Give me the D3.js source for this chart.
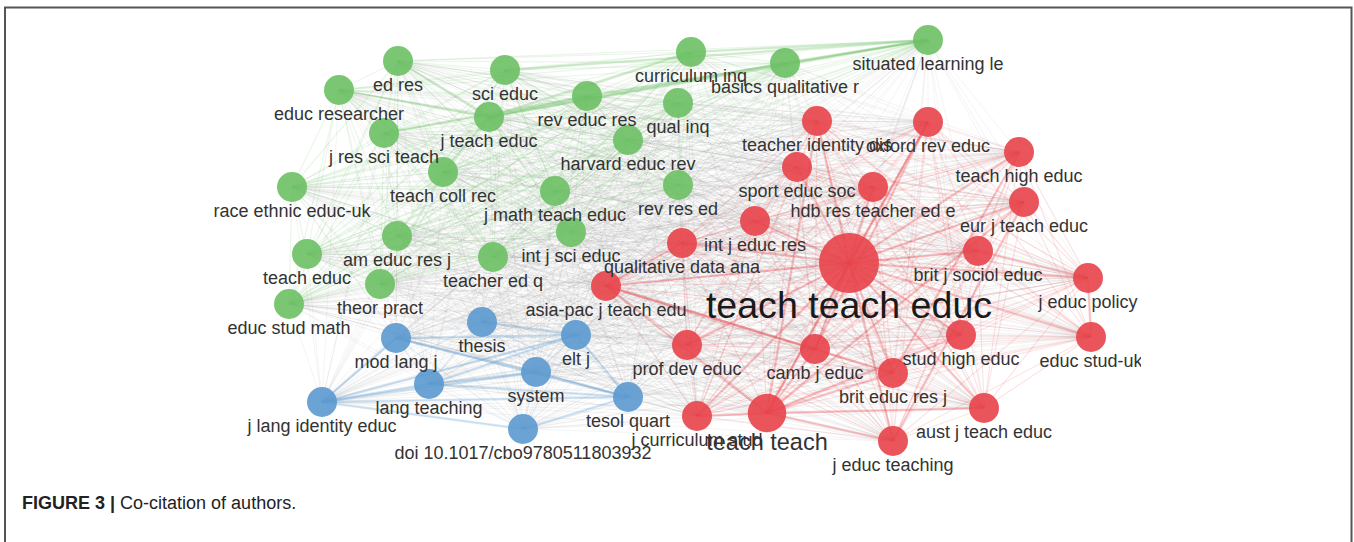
<!DOCTYPE html>
<html><head><meta charset="utf-8">
<script src="https://cdn.jsdelivr.net/npm/d3@7/dist/d3.min.js"></script>
<style>
html,body{margin:0;padding:0;background:#fff;}
svg{display:block;}
</style></head>
<body>
<svg id="chart" width="1354" height="542"></svg>
<script>
// ---- data (layout coordinates in units of 10 px, weights = occurrence size) ----
const labels = [
 "ed res","educ researcher","sci educ","curriculum inq","basics qualitative r","situated learning le",
 "rev educ res","qual inq","j teach educ","j res sci teach","harvard educ rev","teach coll rec",
 "race ethnic educ-uk","j math teach educ","rev res ed","am educ res j","int j sci educ","teach educ",
 "teacher ed q","theor pract","educ stud math",
 "thesis","elt j","mod lang j","system","lang teaching","j lang identity educ","tesol quart",
 "doi 10.1017/cbo9780511803932",
 "teacher identity dis","oxford rev educ","teach high educ","sport educ soc","hdb res teacher ed e",
 "eur j teach educ","int j educ res","qualitative data ana","teach teach educ","brit j sociol educ",
 "j educ policy","asia-pac j teach edu","stud high educ","educ stud-uk","prof dev educ","camb j educ",
 "brit educ res j","j curriculum stud","teach teach","aust j teach educ","j educ teaching"
];
const clusters = [
 1,1,1,1,1,1,1,1,1,1,1,1,1,1,1,1,1,1,1,1,1,
 3,3,3,3,3,3,3,3,
 2,2,2,2,2,2,2,2,2,2,2,2,2,2,2,2,2,2,2,2,2
];
const xs = [
 39.8,33.9,50.5,69.1,78.5,92.8,58.7,67.8,48.9,38.4,62.8,44.3,29.2,55.5,67.8,39.7,57.1,30.7,49.3,38.0,28.9,
 48.2,57.6,39.6,53.6,42.9,32.2,62.8,52.3,
 81.7,92.8,101.9,79.7,87.3,102.4,75.5,68.2,84.9,97.8,108.8,60.6,96.1,109.1,68.7,81.5,89.3,69.7,76.7,98.4,89.3
];
const ys = [
 6.1,9.0,7.0,5.2,6.3,4.0,9.6,10.3,11.7,13.3,14.0,17.2,18.7,19.1,18.5,23.6,23.2,25.4,25.7,28.4,30.4,
 32.2,33.5,33.8,37.2,38.4,40.2,39.7,42.9,
 12.1,12.2,15.2,16.7,18.7,20.2,22.1,24.3,26.3,25.1,27.8,28.6,33.5,33.7,34.5,34.9,37.3,41.6,41.3,40.8,44.1
];
const weights = [
 100,100,100,100,100,100,100,100,100,100,100,100,100,100,100,100,100,100,100,100,100,
 100,100,100,100,100,100,100,100,
 100,100,100,100,100,100,100,100,400,100,100,100,100,100,100,100,100,100,165,100,100
];
const clusterColors = {1:"#6cc064",2:"#e8434a",3:"#5b99cf"};
// strongest co-citation links (by label)
const strongLinks = [
 ["j lang identity educ","tesol quart"],["j lang identity educ","system"],["j lang identity educ","lang teaching"],
 ["j lang identity educ","doi 10.1017/cbo9780511803932"],["j lang identity educ","mod lang j"],["j lang identity educ","elt j"],
 ["mod lang j","tesol quart"],["mod lang j","system"],["lang teaching","tesol quart"],["system","tesol quart"],
 ["elt j","tesol quart"],["thesis","elt j"],["lang teaching","elt j"],["doi 10.1017/cbo9780511803932","tesol quart"],
 ["mod lang j","elt j"],["lang teaching","system"],
 ["j teach educ","situated learning le"],["rev educ res","situated learning le"],["j teach educ","rev educ res"],
 ["j teach educ","curriculum inq"],["j res sci teach","rev educ res"],["sci educ","situated learning le"],
 ["teach coll rec","j teach educ"],["educ researcher","j teach educ"],["curriculum inq","situated learning le"],
 ["basics qualitative r","situated learning le"],["j teach educ","basics qualitative r"],["ed res","j teach educ"],
 ["teach teach educ","teacher identity dis"],["teach teach educ","oxford rev educ"],["teach teach educ","teach high educ"],
 ["teach teach educ","sport educ soc"],["teach teach educ","hdb res teacher ed e"],["teach teach educ","eur j teach educ"],
 ["teach teach educ","int j educ res"],["teach teach educ","qualitative data ana"],["teach teach educ","brit j sociol educ"],
 ["teach teach educ","j educ policy"],["teach teach educ","asia-pac j teach edu"],["teach teach educ","stud high educ"],
 ["teach teach educ","educ stud-uk"],["teach teach educ","prof dev educ"],["teach teach educ","camb j educ"],
 ["teach teach educ","brit educ res j"],["teach teach educ","j curriculum stud"],["teach teach educ","teach teach"],
 ["teach teach educ","aust j teach educ"],["teach teach educ","j educ teaching"],
 ["teach teach","j curriculum stud"],["teach teach","camb j educ"],["teach teach","brit educ res j"],["teach teach","j educ teaching"],
 ["teach teach","aust j teach educ"],["teach teach","asia-pac j teach edu"],["teach teach","oxford rev educ"],
 ["teach teach","eur j teach educ"],["teach teach","stud high educ"],["teach teach","teacher identity dis"],
 ["asia-pac j teach edu","camb j educ"],["asia-pac j teach edu","brit educ res j"],["asia-pac j teach edu","qualitative data ana"],
 ["oxford rev educ","camb j educ"],["teach high educ","brit educ res j"],["eur j teach educ","j educ teaching"],
 ["j educ policy","educ stud-uk"],["brit j sociol educ","j educ policy"]
];

// ---- drawing ----
const svg = d3.select("#chart");
const W = 1354, H = 542;
const x = d3.scaleLinear().domain([0, 135.4]).range([0, W]);
const y = d3.scaleLinear().domain([0, 54.2]).range([0, H]);
const r = d3.scaleSqrt().domain([0, 100]).range([0, 15]);
const fs = d3.scalePow().exponent(0.53).domain([100, 400]).range([18, 37.6]);
const FONT = "'Liberation Sans', Arial, Helvetica, sans-serif";

const nodes = labels.map((l, i) => ({label: l, c: clusters[i], x: xs[i], y: ys[i], w: weights[i]}));
const byLabel = new Map(nodes.map(n => [n.label, n]));

// frame
svg.append("path")
  .attr("d", `M5,${H+2} L5,7.5 L1351.5,7.5 L1351.5,${H+2}`)
  .attr("fill", "none").attr("stroke", "#555").attr("stroke-width", 2);

svg.append("clipPath").attr("id", "netclip")
  .append("rect").attr("x", 190).attr("y", 12).attr("width", 951).attr("height", 470);

const g = svg.append("g").attr("clip-path", "url(#netclip)");

// all pairwise links (full co-citation network)
const pairs = [];
for (let i = 0; i < nodes.length; i++)
  for (let j = i + 1; j < nodes.length; j++) pairs.push([nodes[i], nodes[j]]);

g.append("g").selectAll("line")
  .data(pairs.filter(p => p[0].c !== p[1].c))
  .join("line")
  .attr("x1", d => x(d[0].x)).attr("y1", d => y(d[0].y))
  .attr("x2", d => x(d[1].x)).attr("y2", d => y(d[1].y))
  .attr("stroke", "#8a8a8a").attr("stroke-opacity", 0.09).attr("stroke-width", 1);

g.append("g").selectAll("line")
  .data(pairs.filter(p => p[0].c === p[1].c))
  .join("line")
  .attr("x1", d => x(d[0].x)).attr("y1", d => y(d[0].y))
  .attr("x2", d => x(d[1].x)).attr("y2", d => y(d[1].y))
  .attr("stroke", d => clusterColors[d[0].c]).attr("stroke-opacity", 0.14).attr("stroke-width", 1.2);

g.append("g").selectAll("line")
  .data(strongLinks.map(p => [byLabel.get(p[0]), byLabel.get(p[1])]))
  .join("line")
  .attr("x1", d => x(d[0].x)).attr("y1", d => y(d[0].y))
  .attr("x2", d => x(d[1].x)).attr("y2", d => y(d[1].y))
  .attr("stroke", d => clusterColors[d[0].c]).attr("stroke-opacity", 0.24).attr("stroke-width", 2.5);

// nodes
g.append("g").selectAll("circle")
  .data(nodes)
  .join("circle")
  .attr("cx", d => x(d.x)).attr("cy", d => y(d.y))
  .attr("r", d => r(d.w))
  .attr("fill", d => clusterColors[d.c]).attr("fill-opacity", 0.9);

// labels
g.append("g").selectAll("text")
  .data(nodes)
  .join("text")
  .attr("x", d => x(d.x))
  .attr("y", d => y(d.y) + r(d.w) + fs(d.w) * 0.5 + 6)
  .attr("text-anchor", "middle")
  .attr("font-family", FONT)
  .attr("font-size", d => fs(d.w))
  .attr("fill", d => d.w > 300 ? "#1a1a1a" : "#333")
  .text(d => d.label);

// caption
const cap = svg.append("text")
  .attr("x", 22).attr("y", 509)
  .attr("font-family", FONT)
  .attr("font-size", 18).attr("fill", "#222");
cap.append("tspan").attr("font-weight", "bold").text("FIGURE 3 | ");
cap.append("tspan").text("Co-citation of authors.");
</script>
</body></html>
